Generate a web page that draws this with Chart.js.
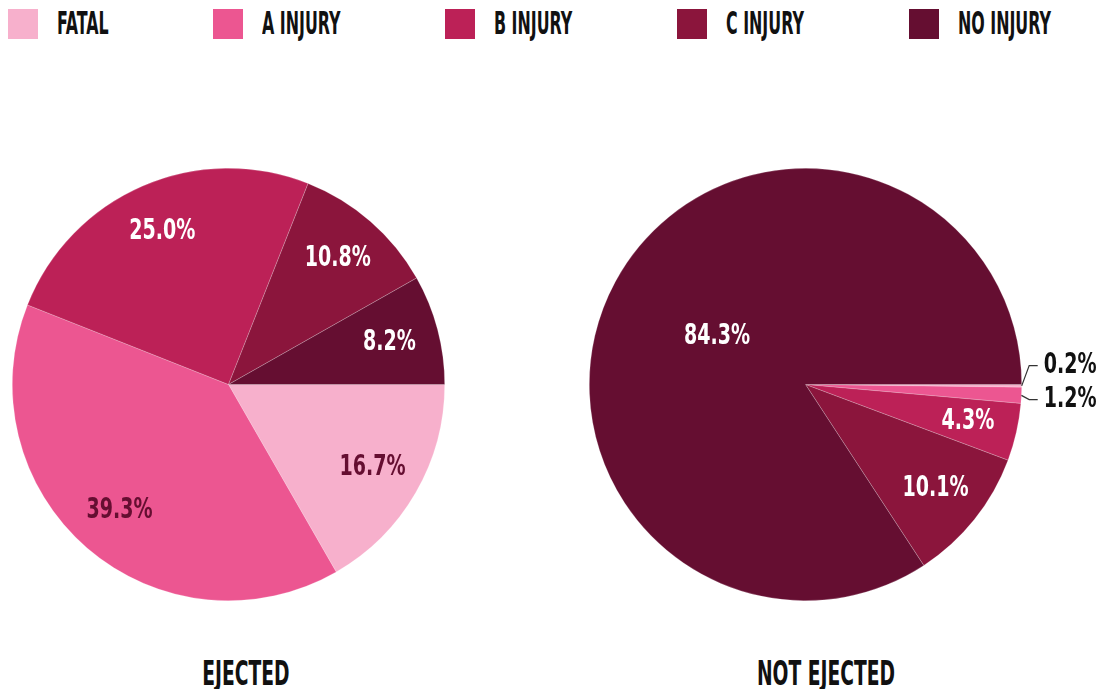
<!DOCTYPE html>
<html lang="en">

<head>
    <meta charset="UTF-8">
    <meta name="viewport" content="width=device-width, initial-scale=1.0">
    <title>Ejected vs Not Ejected</title>
    <script src="https://cdn.jsdelivr.net/npm/chart.js"></script>
    <style>
        html, body {
            margin: 0;
            padding: 0;
            background: #ffffff;
        }

        .pagina {
            position: relative;
            width: 1103px;
            height: 689px;
            overflow: hidden;
            font-family: 'DejaVu Sans Condensed', 'DejaVu Sans', sans-serif;
            font-weight: bold;
            color: #111111;
        }

        .caixa {
            position: absolute;
            top: 150px;
            height: 470px;
        }

        .legenda-quadrado {
            position: absolute;
            top: 9px;
            width: 30px;
            height: 30px;
        }

        .legenda-texto {
            position: absolute;
            top: 8px;
            font-size: 31.5px;
            line-height: 31.5px;
            white-space: nowrap;
            transform: scaleX(0.56);
            transform-origin: 0 50%;
        }

        .titulo {
            position: absolute;
            top: 657px;
            width: 300px;
            font-size: 33px;
            line-height: 33px;
            text-align: center;
            white-space: nowrap;
            transform: scaleX(0.63);
            transform-origin: 50% 50%;
        }
    </style>
</head>

<body>

    <div class="pagina" id="pagina">
        <div id="legenda"></div>

        <div class="caixa" style="left: 0px; width: 551px;">
            <canvas id="grafico_ejetado"></canvas>
        </div>

        <div class="caixa" style="left: 560px; width: 543px;">
            <canvas id="grafico_nao_ejetado"></canvas>
        </div>

        <div class="titulo" id="titulo1" style="left: 96px;"></div>
        <div class="titulo" id="titulo2" style="left: 676px;"></div>
    </div>

</body>
<script>

// dados (percentual)
const categories = ['FATAL', 'A INJURY', 'B INJURY', 'C INJURY', 'NO INJURY'];
const ejected = [16.7, 39.3, 25.0, 10.8, 8.2];
const notEjected = [0.2, 1.2, 4.3, 10.1, 84.3];
const chartTitles = ['EJECTED', 'NOT EJECTED'];

// estilo
const sliceColors = ['#F7B0CC', '#EC5691', '#BC2157', '#8B153C', '#650E31'];
const labelColors = ['#650E31', '#650E31', '#ffffff', '#ffffff', '#ffffff'];
const legendLeft = [8, 213, 445, 677, 909];

const labelFont = "bold 29px 'DejaVu Sans Condensed', 'DejaVu Sans', sans-serif";
const labelScale = 0.73;

// legenda
var legenda = document.getElementById('legenda');
categories.forEach(function (nome, i) {
    var q = document.createElement('div');
    q.className = 'legenda-quadrado';
    q.style.left = legendLeft[i] + 'px';
    q.style.background = sliceColors[i];
    legenda.appendChild(q);

    var t = document.createElement('div');
    t.className = 'legenda-texto';
    t.style.left = (legendLeft[i] + 49) + 'px';
    t.textContent = nome;
    legenda.appendChild(t);
});

document.getElementById('titulo1').textContent = chartTitles[0];
document.getElementById('titulo2').textContent = chartTitles[1];

function escreverTexto(ctx, texto, x, y, cor, alinhamento) {
    ctx.save();
    ctx.translate(x, y);
    ctx.scale(labelScale, 1);
    ctx.font = labelFont;
    ctx.fillStyle = cor;
    ctx.textAlign = alinhamento;
    ctx.textBaseline = 'middle';
    ctx.fillText(texto, 0, 0);
    ctx.restore();
}

// rotulos das fatias (dentro e fora com linha guia)
const sliceLabels = {
    id: 'sliceLabels',
    afterDatasetsDraw(chart) {
        const ctx = chart.ctx;
        const meta = chart.getDatasetMeta(0);
        const values = chart.data.datasets[0].data;
        const pequenos = [];

        meta.data.forEach(function (arc, i) {
            const p = arc.getProps(['x', 'y', 'startAngle', 'endAngle', 'outerRadius'], true);
            const meio = (p.startAngle + p.endAngle) / 2;
            const texto = values[i].toFixed(1) + '%';

            if (values[i] < 2) {
                pequenos.push({ texto: texto, meio: meio, p: p });
                return;
            }

            const k = values[i] > 50 ? 0.465 : 0.77;
            const x = p.x + Math.cos(meio) * p.outerRadius * k;
            const y = p.y + Math.sin(meio) * p.outerRadius * k;
            escreverTexto(ctx, texto, x, y, labelColors[i], 'center');
        });

        if (pequenos.length) {
            const pontos = pequenos.map(function (s) {
                return {
                    x: s.p.x + Math.cos(s.meio) * s.p.outerRadius,
                    y: s.p.y + Math.sin(s.meio) * s.p.outerRadius
                };
            });
            const mediaY = pontos.reduce(function (a, b) { return a + b.y; }, 0) / pontos.length - 8;

            pequenos.forEach(function (s, j) {
                const ly = mediaY + (j - (pequenos.length - 1) / 2) * 34;
                const bordaX = s.p.x + s.p.outerRadius;

                ctx.save();
                ctx.strokeStyle = '#333333';
                ctx.lineWidth = 1.2;
                ctx.beginPath();
                ctx.moveTo(pontos[j].x, pontos[j].y);
                ctx.lineTo(bordaX + 7.5, ly);
                ctx.lineTo(bordaX + 16, ly);
                ctx.stroke();
                ctx.restore();

                escreverTexto(ctx, s.texto, bordaX + 22, ly, '#111111', 'left');
            });
        }
    }
};

function configPizza(valores, padding) {
    return {
        type: 'pie',
        data: {
            labels: categories,
            datasets: [{
                data: valores,
                backgroundColor: sliceColors,
                borderColor: 'rgba(255, 255, 255, 0.35)',
                borderWidth: 0.6,
                hoverOffset: 0
            }]
        },
        options: {
            responsive: true,
            maintainAspectRatio: false,
            animation: false,
            events: [],
            rotation: 90,
            layout: { padding: padding },
            plugins: {
                legend: { display: false },
                tooltip: { enabled: false }
            }
        },
        plugins: [sliceLabels]
    };
}

// Grafico ejetado
const GraficoEjetado = new Chart(
    document.getElementById('grafico_ejetado'),
    configPizza(ejected, { top: 18, bottom: 19, left: 12, right: 106 })
);

// Grafico nao ejetado
const GraficoNaoEjetado = new Chart(
    document.getElementById('grafico_nao_ejetado'),
    configPizza(notEjected, { top: 18, bottom: 19, left: 29, right: 81 })
);

</script>

</html>
